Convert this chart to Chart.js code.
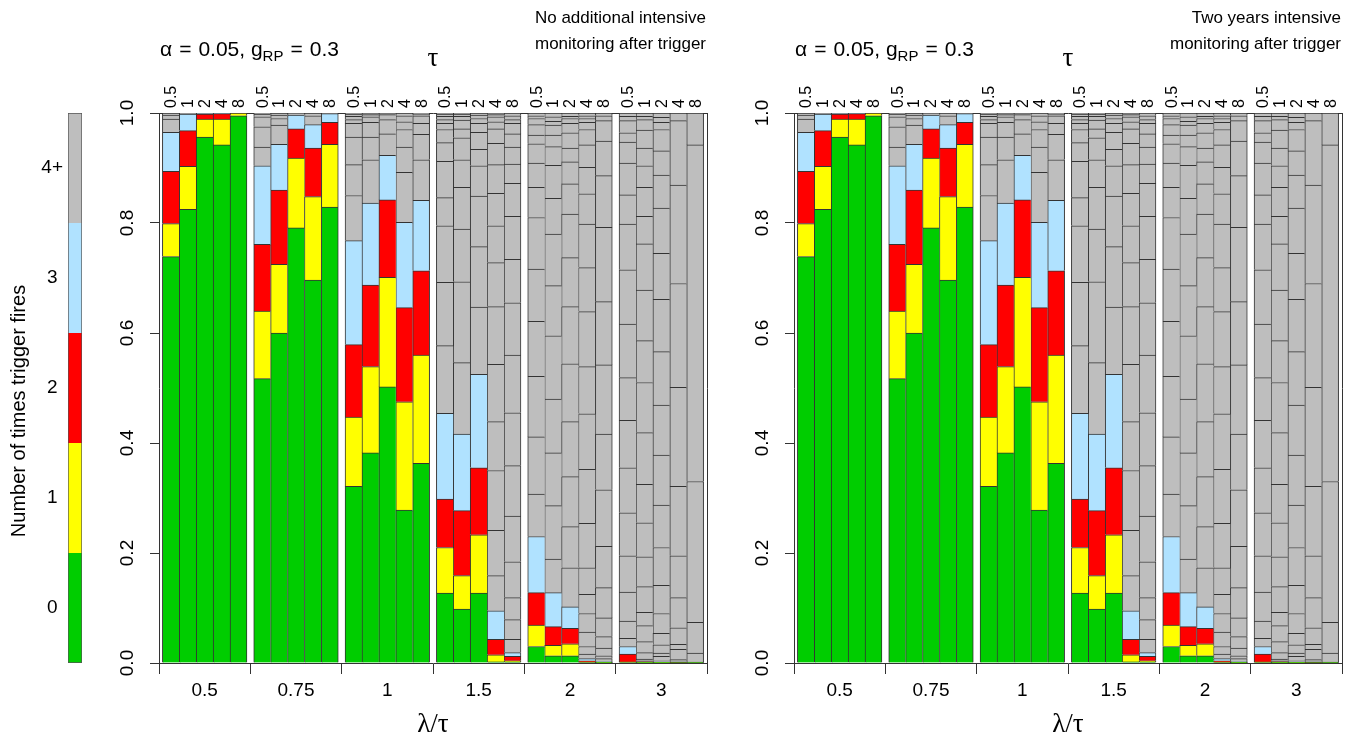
<!DOCTYPE html>
<html>
<head>
<meta charset="utf-8">
<title>Number of times trigger fires</title>
<script src="https://cdn.jsdelivr.net/npm/chart.js@4.4.1/dist/chart.umd.min.js"></script>
<style>
  body { margin: 0; background: #fff; }
  canvas { position: absolute; top: 0; }
</style>
</head>
<body>
<canvas id="keyChart" width="100" height="743" style="left:0px"></canvas>
<canvas id="leftChart" width="620" height="743" style="left:100px"></canvas>
<canvas id="rightChart" width="620" height="743" style="left:735px"></canvas>
<script>
// Group labels (lambda / tau) and bar labels (tau)
const ratioLabels = ["0.5", "0.75", "1", "1.5", "2", "3"];
const tauLabels = ["0.5", "1", "2", "4", "8"];
const fireLabels = ["0", "1", "2", "3", "4+"];
const fireColors = ["#00cd00", "#ffff00", "#ff0000", "#b0e2ff", "#bebebe"];
const yTicks = [0, 0.2, 0.4, 0.6, 0.8, 1.0];

// Cumulative share with at most 0, 1, 2, 3 fires; one row per bar (tau runs fastest)
const cumLow = [
    [0.739, 0.799, 0.894, 0.965], [0.825, 0.903, 0.968, 0.998], [0.956, 0.989, 0.998, 0.999], [0.942, 0.989, 0.999, 1.0], [0.995, 1.0, 1.0, 1.0],
    [0.517, 0.640, 0.761, 0.904], [0.600, 0.725, 0.860, 0.943], [0.791, 0.918, 0.971, 0.996], [0.696, 0.848, 0.936, 0.979], [0.829, 0.943, 0.983, 0.999],
    [0.321, 0.447, 0.579, 0.768], [0.382, 0.539, 0.687, 0.836], [0.502, 0.701, 0.842, 0.923], [0.278, 0.475, 0.646, 0.801], [0.363, 0.560, 0.713, 0.841],
    [0.127, 0.210, 0.298, 0.454], [0.098, 0.159, 0.277, 0.416], [0.127, 0.233, 0.355, 0.525], [0.002, 0.015, 0.043, 0.095], [0.002, 0.004, 0.012, 0.019],
    [0.030, 0.069, 0.128, 0.230], [0.013, 0.032, 0.066, 0.128], [0.013, 0.035, 0.063, 0.102], [0.001, 0.002, 0.004, 0.008], [0.0005, 0.001, 0.0015, 0.0025],
    [0.001, 0.002, 0.016, 0.030], [0.0005, 0.001, 0.0025, 0.004], [0.0005, 0.001, 0.002, 0.004], [0.0003, 0.0006, 0.001, 0.002], [0.0002, 0.0004, 0.0008, 0.0018]
];

// Cumulative share at the top of each 4, 5, 6, ... fires band (the grey blocks)
const cumHigh = [
    [0.989, 0.996, 1], [1], [1], [1], [1],
    [0.938, 0.975, 0.993, 0.998, 1], [0.978, 0.990, 0.996, 1], [0.999, 1], [0.995, 1], [1],
    [0.850, 0.906, 0.956, 0.981, 0.988, 0.994, 0.998, 1],
    [0.915, 0.956, 0.983, 0.993, 0.997, 1],
    [0.962, 0.988, 0.997, 1],
    [0.892, 0.938, 0.970, 0.984, 0.995, 1],
    [0.915, 0.961, 0.981, 0.995, 0.998, 1],
    [0.577, 0.692, 0.795, 0.846, 0.912, 0.946, 0.970, 0.981, 0.988, 0.994, 0.998, 1],
    [0.546, 0.693, 0.789, 0.865, 0.915, 0.955, 0.971, 0.987, 0.994, 0.998, 1],
    [0.647, 0.757, 0.849, 0.904, 0.934, 0.965, 0.981, 0.990, 0.996, 1],
    [0.159, 0.241, 0.350, 0.439, 0.543, 0.648, 0.728, 0.795, 0.854, 0.906, 0.945, 0.971, 0.984, 0.993, 0.997, 1],
    [0.043, 0.079, 0.119, 0.184, 0.267, 0.359, 0.455, 0.560, 0.655, 0.734, 0.812, 0.872, 0.907, 0.938, 0.962, 0.981, 0.988, 0.995, 1],
    [0.307, 0.411, 0.521, 0.621, 0.716, 0.810, 0.865, 0.909, 0.944, 0.960, 0.979, 0.990, 0.995, 1],
    [0.189, 0.286, 0.382, 0.480, 0.595, 0.686, 0.780, 0.845, 0.905, 0.939, 0.960, 0.978, 0.985, 0.993, 1],
    [0.173, 0.248, 0.339, 0.439, 0.544, 0.648, 0.737, 0.816, 0.871, 0.911, 0.936, 0.964, 0.981, 0.990, 0.994, 1],
    [0.016, 0.030, 0.056, 0.090, 0.125, 0.173, 0.254, 0.352, 0.453, 0.539, 0.639, 0.719, 0.798, 0.853, 0.901, 0.942, 0.970, 0.983, 0.990, 0.995, 1],
    [0.008, 0.013, 0.027, 0.048, 0.082, 0.137, 0.212, 0.315, 0.416, 0.542, 0.657, 0.792, 0.886, 0.949, 0.986, 0.995, 1],
    [0.045, 0.076, 0.129, 0.195, 0.273, 0.355, 0.441, 0.519, 0.616, 0.715, 0.798, 0.851, 0.909, 0.947, 0.964, 0.986, 0.994, 1],
    [0.007, 0.019, 0.039, 0.068, 0.092, 0.139, 0.193, 0.255, 0.325, 0.419, 0.510, 0.586, 0.678, 0.762, 0.812, 0.865, 0.904, 0.936, 0.969, 0.988, 0.994, 1],
    [0.012, 0.018, 0.033, 0.054, 0.090, 0.141, 0.210, 0.287, 0.378, 0.469, 0.566, 0.661, 0.745, 0.827, 0.887, 0.931, 0.970, 0.983, 0.992, 1],
    [0.006, 0.025, 0.034, 0.064, 0.119, 0.195, 0.321, 0.501, 0.690, 0.869, 0.986, 1],
    [0.018, 0.074, 0.330, 0.942, 1]
];

// Both panels show the same distributions, only the scenario note differs
const leftNote = ["No additional intensive", "monitoring after trigger"];
const rightNote = ["Two years intensive", "monitoring after trigger"];

const SANS = '"Liberation Sans", Arial, sans-serif';
const SERIF = '"Liberation Serif", "Times New Roman", serif';
const GROUP = 5.4; // one lambda/tau group: 5 bars plus a gap, in bar widths
const PAD = 0.2;

Chart.defaults.font.family = SANS;
Chart.defaults.color = "#000";

const barX = i => Math.floor(i / 5) * GROUP + PAD + (i % 5) + 0.5;
const isEdge = v => Math.abs(v / GROUP - Math.round(v / GROUP)) < 1e-6;

function buildDatasets() {
    const bounds = cumLow.map((row, i) => row.concat(cumHigh[i]));
    const n = Math.max(...bounds.map(b => b.length));
    const sets = [];
    for (let k = 0; k < n; k++) {
        sets.push({
            data: bounds.map((b, i) => ({
                x: barX(i),
                y: k < b.length ? Math.max(b[k] - (k ? b[k - 1] : 0), 0) : null
            })),
            backgroundColor: fireColors[Math.min(k, 4)],
            borderColor: "#333",
            borderWidth: ctx => ({ top: 1, bottom: 0, left: 1, right: ctx.dataIndex % 5 === 4 ? 1 : 0 }),
            borderSkipped: false,
            barPercentage: 1,
            categoryPercentage: 1,
            xAxisID: "x",
            yAxisID: "y"
        });
    }
    return sets;
}

// Extra text: rotated y labels, tau labels, parameter line and scenario note
const panelText = {
    id: "panelText",
    afterDraw(chart, args, opts) {
        const { ctx, chartArea, scales } = chart;
        ctx.save();
        ctx.fillStyle = "#000";
        ctx.textAlign = "center";
        ctx.textBaseline = "middle";
        ctx.font = `19px ${SANS}`;
        yTicks.forEach(v => {
            ctx.save();
            ctx.translate(chartArea.left - 31, scales.y.getPixelForValue(v));
            ctx.rotate(-Math.PI / 2);
            ctx.fillText(v.toFixed(1), 0, 0);
            ctx.restore();
        });

        // tau value above every bar, reading upwards
        ctx.font = `16px ${SANS}`;
        ctx.textAlign = "left";
        cumLow.forEach((r, i) => {
            ctx.save();
            ctx.translate(scales.x.getPixelForValue(barX(i)), chartArea.top - 5);
            ctx.rotate(-Math.PI / 2);
            ctx.fillText(tauLabels[i % 5], 0, 1);
            ctx.restore();
        });

        // alpha = 0.05, g_RP = 0.3
        ctx.textBaseline = "alphabetic";
        let x = chartArea.left + 1;
        [["\u03b1", 21, 0, 7], ["=", 21, 0, 7], ["0.05, g", 21, 0, 0], ["RP", 15, 5, 7], ["=", 21, 0, 7], ["0.3", 21, 0, 0]]
            .forEach(([t, size, drop, gap]) => {
                ctx.font = `${size}px ${SANS}`;
                ctx.fillText(t, x, 56 + drop);
                x += ctx.measureText(t).width + gap;
            });

        ctx.font = `17px ${SANS}`;
        ctx.textAlign = "right";
        ctx.textBaseline = "middle";
        opts.note.forEach((line, k) => ctx.fillText(line, chartArea.right - 1, 18 + k * 26));
        ctx.restore();
    }
};

function createPanel(canvasId, note) {
    return new Chart(document.getElementById(canvasId), {
        type: "bar",
        data: { datasets: buildDatasets() },
        plugins: [panelText],
        options: {
            responsive: false,
            animation: false,
            layout: { padding: 0 },
            plugins: {
                legend: { display: false },
                tooltip: { enabled: false },
                panelText: { note: note }
            },
            scales: {
                x: {
                    type: "linear",
                    position: "bottom",
                    stacked: true,
                    min: 0,
                    max: 6 * GROUP,
                    offset: false,
                    afterBuildTicks: s => {
                        const t = [];
                        for (let g = 0; g <= 6; g++) {
                            t.push({ value: g * GROUP });
                            if (g < 6) t.push({ value: g * GROUP + GROUP / 2 });
                        }
                        s.ticks = t;
                    },
                    afterFit: s => { s.height = 80; },
                    ticks: {
                        autoSkip: false,
                        maxRotation: 0,
                        padding: 5,
                        font: { size: 19 },
                        callback: v => isEdge(v) ? "" : ratioLabels[Math.floor(v / GROUP)]
                    },
                    grid: {
                        drawOnChartArea: false,
                        offset: false,
                        tickLength: 11,
                        tickColor: ctx => isEdge(ctx.tick.value) ? "#333" : "rgba(0,0,0,0)"
                    },
                    border: { color: "#333" },
                    title: {
                        display: true,
                        text: "\u03bb/\u03c4",
                        font: { size: 27, family: SERIF },
                        padding: { top: 0, bottom: 2 }
                    }
                },
                xTop: {
                    type: "linear",
                    position: "top",
                    display: true,
                    min: 0,
                    max: 6 * GROUP,
                    offset: false,
                    afterFit: s => { s.height = 113; },
                    ticks: { display: false },
                    grid: { display: false, drawTicks: false },
                    border: { color: "#333" },
                    title: {
                        display: true,
                        text: "\u03c4",
                        font: { size: 27, family: SERIF },
                        padding: { top: 43, bottom: 0 }
                    }
                },
                y: {
                    stacked: true,
                    min: 0,
                    max: 1,
                    afterFit: s => { s.width = 59; },
                    ticks: { display: false, stepSize: 0.2 },
                    grid: { drawOnChartArea: false, tickLength: 9, tickColor: "#333" },
                    border: { color: "#333" }
                },
                yRight: {
                    position: "right",
                    display: true,
                    min: 0,
                    max: 1,
                    afterFit: s => { s.width = 13; },
                    ticks: { display: false },
                    grid: { display: false, drawTicks: false },
                    border: { color: "#333" }
                }
            }
        }
    });
}

// Colour key on the far left
const keyTitle = {
    id: "keyTitle",
    afterDraw(chart) {
        const ctx = chart.ctx;
        ctx.save();
        ctx.font = `20px ${SANS}`;
        ctx.fillStyle = "#000";
        ctx.textAlign = "center";
        ctx.textBaseline = "middle";
        ctx.translate(19, 411);
        ctx.rotate(-Math.PI / 2);
        ctx.fillText("Number of times trigger fires", 0, 0);
        ctx.restore();
    }
};

new Chart(document.getElementById("keyChart"), {
    type: "bar",
    data: {
        labels: [""],
        datasets: fireLabels.map((l, k) => ({
            label: l,
            data: [1],
            backgroundColor: fireColors[k],
            borderColor: "#555",
            borderWidth: { left: 1, right: 1, top: k === 4 ? 1 : 0, bottom: k === 0 ? 1 : 0 },
            borderSkipped: false,
            barPercentage: 1,
            categoryPercentage: 1
        }))
    },
    plugins: [keyTitle],
    options: {
        responsive: false,
        animation: false,
        layout: { padding: { top: 113, bottom: 80, right: 18 } },
        plugins: { legend: { display: false }, tooltip: { enabled: false } },
        scales: {
            x: { stacked: true, display: false },
            y: {
                stacked: true,
                min: 0,
                max: 5,
                afterBuildTicks: s => { s.ticks = fireLabels.map((l, k) => ({ value: k + 0.5 })); },
                afterFit: s => { s.width = 68; },
                ticks: {
                    crossAlign: "center",
                    padding: 5,
                    font: { size: 19 },
                    callback: (v, i) => fireLabels[i]
                },
                grid: { display: false, drawTicks: false },
                border: { display: false }
            }
        }
    }
});

createPanel("leftChart", leftNote);
createPanel("rightChart", rightNote);
</script>
</body>
</html>
